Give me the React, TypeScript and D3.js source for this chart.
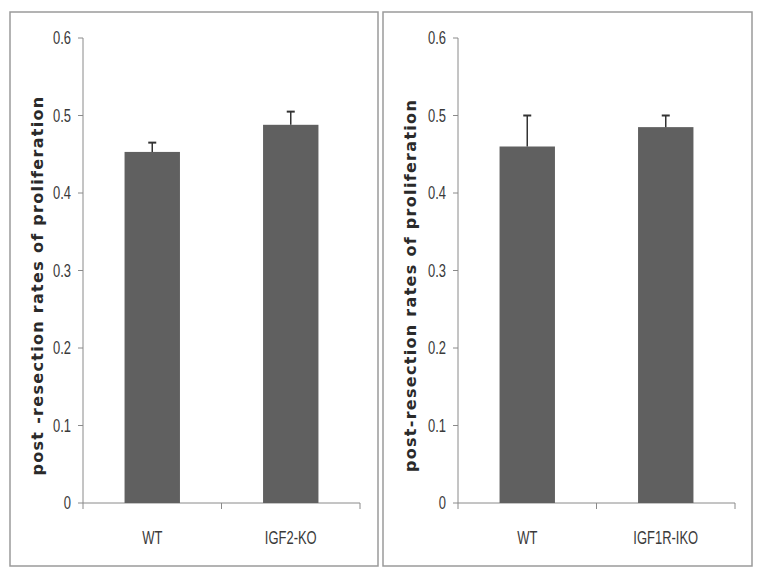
import React from "react";
import * as d3 from "d3";

// values
const groupsA = ["WT", "IGF2-KO"];
const meansA = [0.453, 0.488];
const errA = [0.012, 0.017];

const groupsB = ["WT", "IGF1R-IKO"];
const meansB = [0.46, 0.485];
const errB = [0.04, 0.015];

const yTicks = [0, 0.1, 0.2, 0.3, 0.4, 0.5, 0.6];

const W = 762;
const H = 577;

type PanelProps = {
  x0: number;
  width: number;
  axisX: number;
  axisEnd: number;
  yLabel: string;
  groups: string[];
  means: number[];
  errs: number[];
};

// narrow, tall labels like the original's Calibri
const Narrow = ({ x, y, anchor, children }: { x: number; y: number; anchor: string; children: string }) => (
  <g transform={`translate(${x},${y}) scale(0.72,1)`}>
    <text
      textAnchor={anchor}
      dy="0.35em"
      fontFamily="'Liberation Sans', Arial, sans-serif"
      fontSize={18}
      fill="#3a3a3a"
    >
      {children}
    </text>
  </g>
);

const Panel = ({ x0, width, axisX, axisEnd, yLabel, groups, means, errs }: PanelProps) => {
  const y = d3.scaleLinear().domain([0, 0.6]).range([503, 38]);
  const x = d3.scaleBand().domain(groups).range([axisX, axisEnd]).paddingInner(0.6).paddingOuter(0.3);
  const band = d3.scaleBand().domain(groups).range([axisX, axisEnd]);

  return (
    <g>
      <rect x={x0} y={12} width={width} height={554} fill="white" stroke="#9a9a9a" strokeWidth={1.5} />
      {/* y axis */}
      <line x1={axisX} x2={axisX} y1={y(0.6)} y2={y(0)} stroke="#8a8a8a" />
      {yTicks.map((t) => (
        <g key={t}>
          <line x1={axisX - 5} x2={axisX} y1={y(t)} y2={y(t)} stroke="#8a8a8a" />
          <Narrow x={axisX - 12} y={y(t)} anchor="end">
            {d3.format("")(t)}
          </Narrow>
        </g>
      ))}
      {/* x axis */}
      <line x1={axisX} x2={axisEnd} y1={y(0)} y2={y(0)} stroke="#8a8a8a" />
      {[axisX, ...groups.map((g) => (band(g) as number) + band.bandwidth())].map((v, i) => (
        <line key={i} x1={v} x2={v} y1={y(0)} y2={y(0) + 6} stroke="#8a8a8a" />
      ))}
      {groups.map((g, i) => {
        const bx = x(g) as number;
        const cx = bx + x.bandwidth() / 2;
        return (
          <g key={g}>
            <rect x={bx} y={y(means[i])} width={x.bandwidth()} height={y(0) - y(means[i])} fill="#606060" />
            <line x1={cx} x2={cx} y1={y(means[i])} y2={y(means[i] + errs[i])} stroke="#333" strokeWidth={1.5} />
            <line x1={cx - 4} x2={cx + 4} y1={y(means[i] + errs[i])} y2={y(means[i] + errs[i])} stroke="#333" strokeWidth={2} />
            <Narrow x={cx} y={538} anchor="middle">
              {g}
            </Narrow>
          </g>
        );
      })}
      <text
        transform={`translate(${x0 + 27},${(y(0) + y(0.6)) / 2 + 15}) rotate(-90)`}
        textAnchor="middle"
        dy="0.35em"
        fontFamily="'DejaVu Sans', Verdana, sans-serif"
        fontWeight="bold"
        fontSize={16}
        letterSpacing={1.3}
        fill="#2a2a2a"
      >
        {yLabel}
      </text>
    </g>
  );
};

export default function App() {
  return (
    <svg width={W} height={H} style={{ position: "absolute", left: 0, top: 0 }}>
      <rect width={W} height={H} fill="white" />
      <Panel
        x0={10}
        width={368}
        axisX={83}
        axisEnd={360}
        yLabel="post -resection rates of proliferation"
        groups={groupsA}
        means={meansA}
        errs={errA}
      />
      <Panel
        x0={383}
        width={369}
        axisX={458}
        axisEnd={735}
        yLabel="post-resection rates of proliferation"
        groups={groupsB}
        means={meansB}
        errs={errB}
      />
    </svg>
  );
}
